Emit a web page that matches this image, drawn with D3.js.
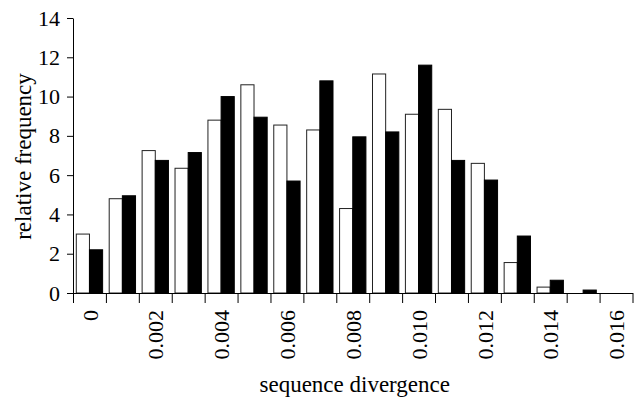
<!DOCTYPE html>
<html>
<head>
<meta charset="utf-8">
<script src="https://cdn.jsdelivr.net/npm/d3@7"></script>
<style>
  body { margin: 0; background: #fff; }
  svg { display: block; }
  svg text { font-family: "Liberation Serif", "Times New Roman", Times, serif; fill: #000; }
</style>
</head>
<body>
<div id="chart"></div>
<script>
// bin centres (sequence divergence)
var bins = [0, 0.001, 0.002, 0.003, 0.004, 0.005, 0.006, 0.007, 0.008,
            0.009, 0.010, 0.011, 0.012, 0.013, 0.014, 0.015, 0.016];
// open bars
var whiteValues = [3.0, 4.8, 7.25, 6.35, 8.8, 10.6, 8.55, 8.3, 4.3,
                   11.15, 9.1, 9.35, 6.6, 1.55, 0.3, 0, 0];
// filled bars
var blackValues = [2.2, 4.95, 6.75, 7.15, 10.0, 8.95, 5.7, 10.8, 7.95,
                   8.2, 11.6, 6.75, 5.75, 2.9, 0.65, 0.15, 0];
var xLabels = [0, 0.002, 0.004, 0.006, 0.008, 0.010, 0.012, 0.014, 0.016];
var yTicks = [0, 2, 4, 6, 8, 10, 12, 14];

var width = 634, height = 403;
var margin = {top: 18, right: 1.5, bottom: 110, left: 73};
var binW = 0.001;
var fontSize = 22;
var serif = "'Liberation Serif', 'Times New Roman', Times, serif";

var svg = d3.select("#chart").append("svg")
    .attr("width", width)
    .attr("height", height);

var x = d3.scaleLinear()
    .domain([bins[0] - binW / 2, bins[bins.length - 1] + binW / 2])
    .range([margin.left, width - margin.right]);

var y = d3.scaleLinear()
    .domain([0, 14])
    .range([height - margin.bottom, margin.top]);

var edges = bins.map(d => d - binW / 2).concat([bins[bins.length - 1] + binW / 2]);

// bars
var g = svg.append("g");
g.selectAll("rect.open")
  .data(bins)
  .join("rect")
    .attr("class", "open")
    .attr("x", (d) => x(d - binW * 0.4))
    .attr("width", x(binW * 0.4) - x(0))
    .attr("y", (d, i) => y(whiteValues[i]))
    .attr("height", (d, i) => y(0) - y(whiteValues[i]))
    .attr("fill", "#fff")
    .attr("stroke", (d, i) => whiteValues[i] > 0 ? "#222" : "none")
    .attr("stroke-width", 1);

g.selectAll("rect.filled")
  .data(bins)
  .join("rect")
    .attr("class", "filled")
    .attr("x", (d) => x(d))
    .attr("width", x(binW * 0.4) - x(0))
    .attr("y", (d, i) => y(blackValues[i]))
    .attr("height", (d, i) => y(0) - y(blackValues[i]))
    .attr("fill", "#000")
    .attr("stroke", (d, i) => blackValues[i] > 0 ? "#000" : "none")
    .attr("stroke-width", 1);

// x axis: ticks at bin edges
svg.append("g")
    .attr("transform", `translate(0,${y(0)})`)
    .call(d3.axisBottom(x).tickValues(edges).tickFormat("").tickSize(10).tickSizeOuter(0))
    .call(a => a.selectAll("line,path").attr("stroke", "#000"));

// x labels at bin centres
svg.append("g")
    .attr("transform", `translate(0,${y(0)})`)
    .call(d3.axisBottom(x).tickValues(xLabels).tickSize(0)
      .tickFormat(d => d === 0 ? "0" : d3.format(".3f")(d)))
    .attr("font-family", serif)
    .attr("font-size", fontSize)
    .call(a => a.select(".domain").remove())
    .call(a => a.selectAll("text")
      .attr("transform", "rotate(-90)")
      .attr("x", -17)
      .attr("y", 0)
      .attr("dy", "0.35em")
      .attr("text-anchor", "end")
      .attr("fill", "#000"));

// y axis
svg.append("g")
    .attr("transform", `translate(${margin.left},0)`)
    .call(d3.axisLeft(y).tickValues(yTicks).tickSize(6).tickPadding(7).tickSizeOuter(0))
    .attr("font-family", serif)
    .attr("font-size", fontSize)
    .call(a => a.selectAll("line,path").attr("stroke", "#000"))
    .call(a => a.selectAll("text").attr("fill", "#000"));

// axis titles
svg.append("text")
    .attr("x", (x.range()[0] + x.range()[1]) / 2 + 2)
    .attr("y", 392)
    .attr("text-anchor", "middle")
    .attr("font-family", serif)
    .attr("font-size", fontSize + 1)
    .text("sequence divergence");

svg.append("text")
    .attr("transform", `translate(31,${(y(0) + y(14)) / 2 + 1}) rotate(-90)`)
    .attr("text-anchor", "middle")
    .attr("font-family", serif)
    .attr("font-size", fontSize + 1)
    .text("relative frequency");
</script>
</body>
</html>
